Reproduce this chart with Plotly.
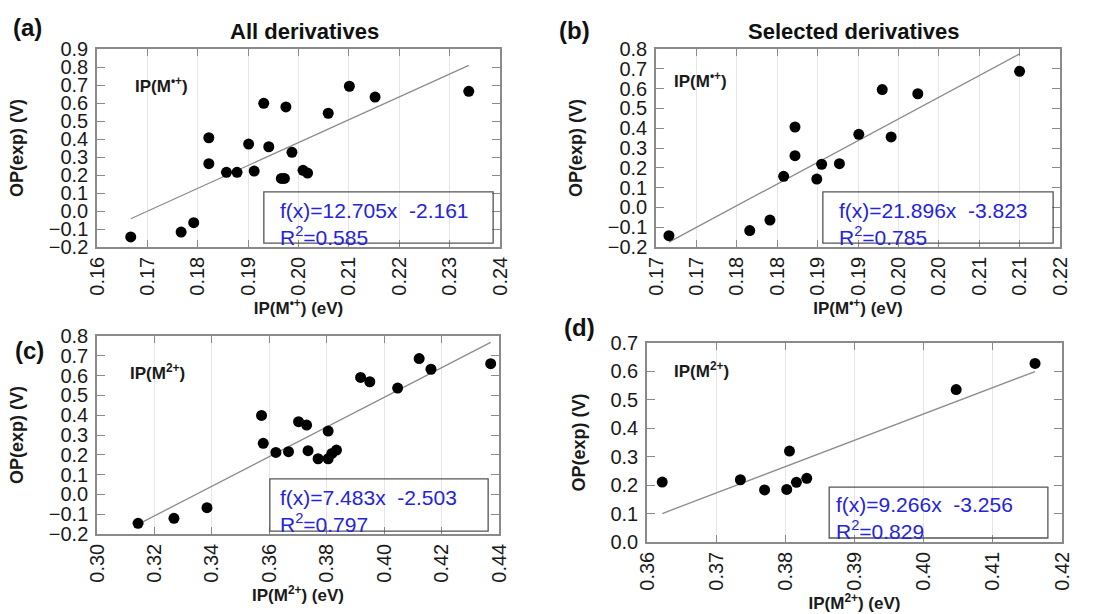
import plotly.graph_objects as go

# ---------------- data ----------------
# (a) all derivatives, IP(M.+)
a_x = [0.1667, 0.1767, 0.1792, 0.1822, 0.1822, 0.1857, 0.1878, 0.1901, 0.1912, 0.1931, 0.1941,
       0.1966, 0.1972, 0.1975, 0.1987, 0.2009, 0.2018, 0.2059, 0.2101, 0.2152, 0.2338]
a_y = [-0.144, -0.117, -0.065, 0.407, 0.263, 0.215, 0.215, 0.372, 0.222, 0.598, 0.357,
       0.181, 0.181, 0.578, 0.326, 0.226, 0.211, 0.543, 0.693, 0.633, 0.665]
a_fit = (12.705, -2.161, 0.585)

# (b) selected derivatives, IP(M.+)
b_x = [0.1666, 0.1766, 0.1791, 0.1808, 0.1822, 0.1822, 0.1849, 0.1855, 0.1877, 0.1901,
       0.1930, 0.1941, 0.1974, 0.2100]
b_y = [-0.143, -0.117, -0.064, 0.157, 0.406, 0.261, 0.143, 0.218, 0.221, 0.369,
       0.595, 0.356, 0.574, 0.687]
b_fit = (21.896, -3.823, 0.785)

# (c) all derivatives, IP(M2+)
c_x = [0.3143, 0.3268, 0.3383, 0.3573, 0.3579, 0.3623, 0.3667, 0.3702, 0.3730, 0.3735, 0.3770,
       0.3805, 0.3805, 0.3818, 0.3834, 0.3918, 0.3950, 0.4047, 0.4122, 0.4163, 0.4371]
c_y = [-0.146, -0.121, -0.067, 0.399, 0.258, 0.212, 0.216, 0.367, 0.350, 0.221, 0.180,
       0.180, 0.320, 0.207, 0.224, 0.591, 0.569, 0.537, 0.686, 0.632, 0.660]
c_fit = (7.483, -2.503, 0.797)

# (d) selected derivatives, IP(M2+)
d_x = [0.3622, 0.3735, 0.3770, 0.3802, 0.3806, 0.3816, 0.3831, 0.4047, 0.4161]
d_y = [0.211, 0.219, 0.183, 0.185, 0.320, 0.210, 0.224, 0.536, 0.628]
d_fit = (9.266, -3.256, 0.829)

# tick labels
a_xticks = [0.16, 0.17, 0.18, 0.19, 0.20, 0.21, 0.22, 0.23, 0.24]
b_xticks = [0.165, 0.170, 0.175, 0.180, 0.185, 0.190, 0.195, 0.200, 0.205, 0.210, 0.215]
b_xticktext = ["0.17", "0.17", "0.18", "0.18", "0.19", "0.19", "0.20", "0.20", "0.21", "0.21", "0.22"]
c_xticks = [0.30, 0.32, 0.34, 0.36, 0.38, 0.40, 0.42, 0.44]
d_xticks = [0.36, 0.37, 0.38, 0.39, 0.40, 0.41, 0.42]
ab_yticks = [-0.2, -0.1, 0.0, 0.1, 0.2, 0.3, 0.4, 0.5, 0.6, 0.7, 0.8, 0.9]
b_yticks = [-0.2, -0.1, 0.0, 0.1, 0.2, 0.3, 0.4, 0.5, 0.6, 0.7, 0.8]
c_yticks = [-0.2, -0.1, 0.0, 0.1, 0.2, 0.3, 0.4, 0.5, 0.6, 0.7, 0.8]
d_yticks = [0.0, 0.1, 0.2, 0.3, 0.4, 0.5, 0.6, 0.7]

panel_letters = ["(a)", "(b)", "(c)", "(d)"]
col_titles = ["All derivatives", "Selected derivatives"]
inset_labels = ["IP(M<sup>•+</sup>)", "IP(M<sup>•+</sup>)", "IP(M<sup>2+</sup>)", "IP(M<sup>2+</sup>)"]
x_titles = ["IP(M<sup>•+</sup>) (eV)", "IP(M<sup>•+</sup>) (eV)", "IP(M<sup>2+</sup>) (eV)", "IP(M<sup>2+</sup>) (eV)"]
y_title = "OP(exp) (V)"

# ---------------- figure ----------------
W, H = 1098, 614
FONT = "Liberation Sans, Arial, sans-serif"
BLUE = "#2424dc"
FRAME = "#8a8a8a"

panels = [
    dict(x=a_x, y=a_y, fit=a_fit, xr=[0.16, 0.24], yr=[-0.2, 0.9], xt=a_xticks, xtt=None, xfmt=".2f", yt=ab_yticks,
         dom_x=[97, 500], dom_y=[49, 247], box=[0.414, 0.983, 0.02, 0.278], txt=[0.449, 0.255], lab=[0.089, 0.818]),
    dict(x=b_x, y=b_y, fit=b_fit, xr=[0.165, 0.215], yr=[-0.2, 0.8], xt=b_xticks, xtt=b_xticktext, xfmt=None, yt=b_yticks,
         dom_x=[656, 1060], dom_y=[49, 247], box=[0.413, 0.983, 0.02, 0.278], txt=[0.448, 0.255], lab=[0.04, 0.843]),
    dict(x=c_x, y=c_y, fit=c_fit, xr=[0.30, 0.44], yr=[-0.2, 0.8], xt=c_xticks, xtt=None, xfmt=".2f", yt=c_yticks,
         dom_x=[97, 499], dom_y=[336, 534], box=[0.430, 0.973, 0.015, 0.278], txt=[0.450, 0.255], lab=[0.077, 0.818]),
    dict(x=d_x, y=d_y, fit=d_fit, xr=[0.36, 0.42], yr=[0.0, 0.7], xt=d_xticks, xtt=None, xfmt=".2f", yt=d_yticks,
         dom_x=[647, 1062], dom_y=[343, 542], box=[0.439, 0.966, 0.02, 0.276], txt=[0.451, 0.255], lab=[0.06, 0.864]),
]

fig = go.Figure()
layout = dict(
    width=W, height=H, autosize=False,
    margin=dict(l=0, r=0, t=0, b=0),
    paper_bgcolor="white", plot_bgcolor="white",
    showlegend=False,
    font=dict(family=FONT, color="#1a1a1a"),
)
annotations = []
shapes = []

for i, p in enumerate(panels):
    n = i + 1
    xa = "x" if n == 1 else f"x{n}"
    ya = "y" if n == 1 else f"y{n}"
    xkey = "xaxis" if n == 1 else f"xaxis{n}"
    ykey = "yaxis" if n == 1 else f"yaxis{n}"

    slope, icpt, r2 = p["fit"]
    xl = [min(p["x"]), max(p["x"])]
    yl = [slope * v + icpt for v in xl]

    fig.add_trace(go.Scatter(x=xl, y=yl, mode="lines", xaxis=xa, yaxis=ya,
                             line=dict(color="#8c8c8c", width=1.3), hoverinfo="skip"))
    fig.add_trace(go.Scatter(x=p["x"], y=p["y"], mode="markers", xaxis=xa, yaxis=ya,
                             marker=dict(color="black", size=11)))

    x0, x1 = p["dom_x"]
    ytop, ybot = p["dom_y"]
    xaxis = dict(
        domain=[x0 / W, x1 / W], anchor=ya, range=p["xr"], automargin=False,
        tickvals=p["xt"], tickangle=-90,
        tickfont=dict(size=20, family=FONT, color="#1a1a1a"),
        showgrid=True, gridcolor="#e6e6e6", gridwidth=1,
        zeroline=False, showline=True, linecolor=FRAME, linewidth=1.5, mirror="allticks",
        ticks="inside", ticklen=7, tickcolor=FRAME, tickwidth=1.2,
        title=dict(text=x_titles[i], font=dict(size=17, family=FONT, color="#1a1a1a", weight="bold"), standoff=4),
    )
    if p["xtt"] is not None:
        xaxis["ticktext"] = p["xtt"]
    else:
        xaxis["tickformat"] = p["xfmt"]
    yaxis = dict(
        domain=[1 - ybot / H, 1 - ytop / H], anchor=xa, range=p["yr"], automargin=False,
        tickvals=p["yt"], tickformat=".1f",
        tickfont=dict(size=20, family=FONT, color="#1a1a1a"),
        showgrid=False, zeroline=False,
        showline=True, linecolor=FRAME, linewidth=1.5, mirror="allticks",
        ticks="inside", ticklen=8, tickcolor=FRAME, tickwidth=1.2,
        ticklabelstandoff=3,
        title=dict(text=y_title, font=dict(size=18, family=FONT, color="#1a1a1a", weight="bold"), standoff=20),
    )
    layout[xkey] = xaxis
    layout[ykey] = yaxis

    bx0, bx1, by0, by1 = p["box"]
    shapes.append(dict(type="rect", xref=f"{xa} domain", yref=f"{ya} domain",
                       x0=bx0, x1=bx1, y0=by0, y1=by1,
                       line=dict(color="#555555", width=1.3), fillcolor="rgba(255,255,255,0)", layer="above"))
    annotations.append(dict(
        xref=f"{xa} domain", yref=f"{ya} domain", x=p["txt"][0], y=p["txt"][1],
        xanchor="left", yanchor="top", align="left", showarrow=False,
        text=f"f(x)={slope:.3f}x  {icpt:.3f}<br>R<sup>2</sup>={r2:.3f}",
        font=dict(size=21, family=FONT, color=BLUE),
    ))
    annotations.append(dict(
        xref=f"{xa} domain", yref=f"{ya} domain", x=p["lab"][0], y=p["lab"][1],
        xanchor="left", yanchor="middle", showarrow=False,
        text=inset_labels[i], font=dict(size=17, family=FONT, color="#1a1a1a", weight="bold"),
    ))

# panel letters
letter_pos = [(11, 27), (557, 30), (13, 350), (562, 327)]
for (lx, ly), lt in zip(letter_pos, panel_letters):
    annotations.append(dict(xref="paper", yref="paper", x=lx / W, y=1 - ly / H,
                            xanchor="left", yanchor="middle", showarrow=False, text=lt,
                            font=dict(size=24, family=FONT, color="#111111", weight="bold")))
# column titles
for (tx, ty), tt in zip([(304, 31), (854, 31)], col_titles):
    annotations.append(dict(xref="paper", yref="paper", x=tx / W, y=1 - ty / H,
                            xanchor="center", yanchor="middle", showarrow=False, text=tt,
                            font=dict(size=22, family=FONT, color="#111111", weight="bold")))

layout["annotations"] = annotations
layout["shapes"] = shapes
fig.update_layout(**layout)
fig.write_html("out.html",
               config={"displayModeBar": False},
               post_script="document.body.style.margin='0';document.body.style.overflow='hidden';")
